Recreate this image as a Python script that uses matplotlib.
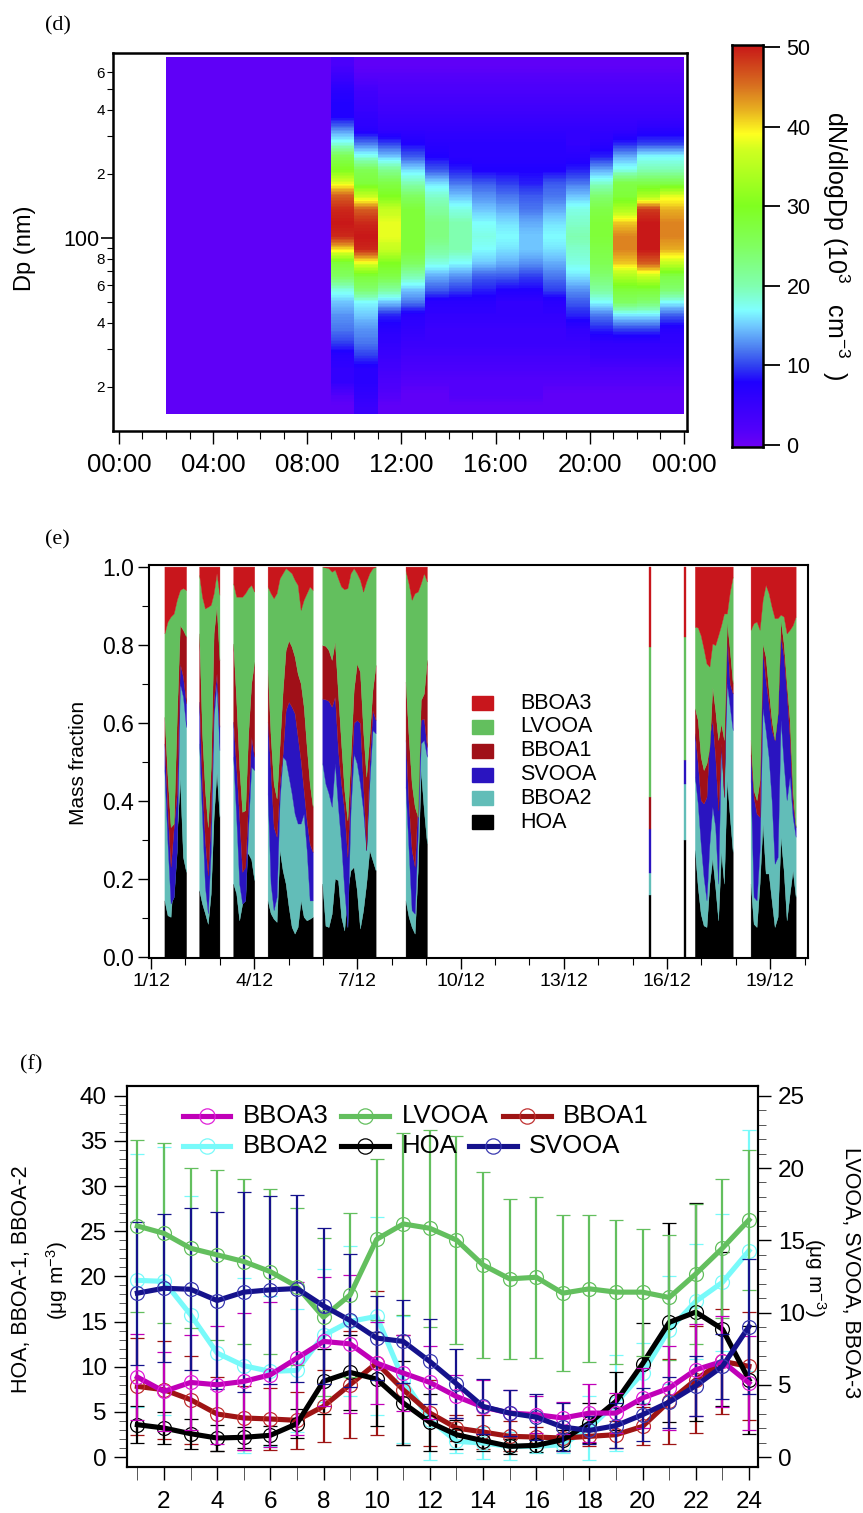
import numpy as np
import matplotlib
matplotlib.use("Agg")
import matplotlib.pyplot as plt
from matplotlib.colors import LinearSegmentedColormap
from matplotlib.lines import Line2D
from matplotlib.patches import Rectangle
from matplotlib.ticker import FixedLocator, FixedFormatter

plt.rcParams['font.family'] = ['Liberation Sans', 'DejaVu Sans']
plt.rcParams['mathtext.fontset'] = 'custom'
plt.rcParams['mathtext.rm'] = 'Liberation Sans'
plt.rcParams['mathtext.default'] = 'regular'

W, H = 863, 1513

# ---------- panel d ----------
dp_rows = [661, 572, 496, 429, 372, 322, 279, 242, 209, 181, 157, 136, 118, 102, 88, 76, 66, 57, 50, 43, 37, 32, 28, 24, 21, 18, 16]
hour_edges = list(range(2, 25))
quiet_hours = [1]*27
h09 = [3,5,7,8,8,13,18,26,30,38,46,49,50,49,40,28,25,18,15,13,12,10,7,6,6,2,1]
h10 = [1,2,4,5,6,7,12,18,26,28,36,46,49,50,49,38,28,24,17,15,13,12,10,7,7,6,5]
h11 = [1,2,3,4,5,6,10,15,22,27,30,36,38,38,36,30,27,21,15,9,7,6,5,4,3,2,1]
h12 = [1,2,3,4,5,6,8,11,16,20,25,28,28,28,28,25,20,15,12,7,6,5,4,3,2,1,1]
h13 = [1,2,3,4,5,6,7,8,11,16,19,21,23,23,21,18,14,11,7,6,5,5,4,3,2,1,1]
h14 = [1,2,3,4,5,6,7,7,9,12,15,18,20,20,20,17,13,10,7,6,5,5,4,3,2,2,1]
h15 = [1,2,3,4,5,6,7,7,8,11,13,15,17,18,17,15,11,9,7,6,5,5,4,3,2,2,1]
h16 = [1,2,3,4,5,6,7,7,8,10,12,14,16,17,16,14,11,8,6,6,5,5,4,3,2,2,1]
h17 = [1,2,3,4,5,6,7,7,8,9,11,12,14,15,15,13,10,8,6,6,5,5,4,3,2,2,1]
h18 = [1,2,3,4,5,6,7,7,8,11,12,14,16,17,16,14,12,10,7,6,5,5,4,3,2,1,1]
h19 = [1,2,3,4,5,6,6,7,9,12,15,18,19,20,19,18,16,13,11,9,6,5,4,3,2,1,1]
h20 = [1,2,3,4,5,6,7,9,14,19,24,27,28,28,27,26,24,21,17,12,9,6,5,3,2,1,1]
h21 = [1,2,3,4,5,6,9,14,18,27,28,34,41,44,44,41,34,28,25,16,10,6,5,3,2,1,1]
h22 = [1,2,3,4,5,7,10,17,20,27,34,48,50,50,50,46,36,28,24,16,10,6,5,3,2,1,1]
h23 = [1,2,3,4,5,7,10,17,20,27,38,42,44,44,42,36,27,24,17,11,7,6,5,3,2,1,1]
hour_columns = [quiet_hours]*7 + [h09,h10,h11,h12,h13,h14,h15,h16,h17,h18,h19,h20,h21,h22,h23]
cb_nodes = [0,2,8,10,12,15,17,20,25,30,37,39,42,45,50]
cb_colors = ['#6C00F4','#5200FA','#2000FF','#3040F0','#4A78F0','#70C8FF','#80FFFF','#80FFB0','#80FF60',
             '#80FF20','#D0FF20','#FFFF20','#E8B020','#D87020','#C81818']

# ---------- panel e ----------
block_days = [(1.39,2.02),(2.40,2.99),(3.39,4.0),(4.39,5.70),(5.98,7.53),(8.40,9.02),(15.48,15.53),(16.49,16.55),(16.81,17.91),(18.43,19.74)]
top_hoa = [
 [.145,.107,.103,.218,.307,.457,.256,.218],
 [.171,.137,.112,.085,.163,.359,.474,.359],
 [.188,.163,.094,.137,.265,.265,.25,.197],
 [.145,.112,.098,.09,.274,.222,.188,.128,.077,.06,.077,.145,.103,.094,.098,.103],
 [.188,.08,.077,.111,.201,.197,.103,.068,.171,.222,.231,.171,.073,.12,.188,.274,.248,.222],
 [.145,.103,.077,.06,.222,.479,.376,.291],
 [.16,.16],[.30,.30],
 [.274,.179,.111,.081,.077,.188,.252,.179,.094,.269,.188,.453,.359,.269],
 [.188,.085,.077,.188,.342,.214,.214,.145,.077,.103,.308,.222,.094,.162,.222,.154]]
top_bboa2 = [
 [.479,.291,.137,.154,.274,.701,.667,.589],
 [.547,.359,.18,.112,.274,.615,.701,.53],
 [.513,.359,.188,.137,.145,.333,.487,.479],
 [.419,.188,.12,.154,.402,.513,.504,.462,.419,.367,.342,.342,.367,.274,.145,.145],
 [.496,.444,.419,.385,.496,.385,.291,.171,.077,.376,.521,.496,.444,.376,.274,.444,.581,.573],
 [.436,.274,.12,.111,.316,.547,.556,.513],
 [.214,.214],[.444,.444],
 [.462,.393,.29,.205,.145,.29,.385,.333,.188,.538,.453,.701,.641,.581],
 [.453,.154,.145,.274,.637,.581,.513,.402,.239,.256,.607,.496,.402,.462,.359,.308]]
top_svooa = [
 [.547,.376,.231,.333,.419,.752,.718,.650],
 [.654,.444,.299,.209,.359,.658,.726,.59],
 [.603,.487,.359,.218,.231,.402,.564,.513],
 [.603,.479,.333,.308,.444,.521,.632,.654,.641,.624,.564,.504,.427,.35,.29,.269],
 [.662,.66,.656,.641,.667,.53,.444,.376,.256,.444,.6,.607,.6,.444,.274,.496,.632,.607],
 [.556,.393,.274,.231,.402,.607,.611,.538],
 [.329,.329],[.504,.504],
 [.573,.496,.402,.393,.41,.564,.607,.513,.376,.547,.41,.821,.701,.675],
 [.517,.41,.367,.359,.786,.709,.65,.581,.556,.624,.821,.77,.675,.564,.393,.333]]
top_bboa1 = [
 [.615,.462,.333,.342,.615,.850,.838,.821],
 [.829,.573,.427,.333,.487,.829,.90,.76],
 [.803,.658,.487,.372,.376,.573,.701,.756],
 [.736,.564,.444,.406,.544,.68,.786,.811,.795,.769,.726,.701,.641,.538,.444,.385],
 [.799,.797,.786,.761,.808,.675,.547,.427,.35,.513,.684,.752,.731,.581,.462,.564,.684,.748],
 [.705,.564,.444,.385,.359,.658,.675,.761],
 [.41,.41],[.504,.504],
 [.637,.607,.513,.479,.496,.538,.692,.632,.556,.598,.556,.859,.786,.701],
 [.556,.427,.402,.453,.803,.769,.684,.607,.556,.624,.863,.803,.701,.607,.427,.333]]
top_lvooa = [
 [.829,.859,.872,.880,.915,.940,.945,.940],
 [.979,.923,.893,.897,.902,.932,.983,.928],
 [.957,.923,.923,.923,.932,.945,.953,.936],
 [.949,.932,.919,.932,.97,.983,.996,.99,.983,.966,.953,.889,.915,.932,.949,.94],
 [1.0,.998,.996,.987,.992,.97,.949,.942,.945,.983,.996,.983,.966,.936,.962,.983,.996,1.0],
 [.99,.957,.915,.932,.936,.957,.983,.962],
 [.795,.795],[.82,.82],
 [.846,.844,.824,.79,.752,.744,.803,.799,.824,.85,.88,.88,.936,.974],
 [.838,.855,.859,.838,.915,.953,.932,.897,.868,.868,.877,.872,.829,.838,.85,.872]]
e_names = ['BBOA3','LVOOA','BBOA1','SVOOA','BBOA2','HOA']
e_colors = ['#C8161C','#63BF5E','#A01018','#2A14C0','#62BDB8','#000000']
e_tick_days = [1,4,7,10,13,16,19]
e_tick_labels = ['1/12','4/12','7/12','10/12','13/12','16/12','19/12']

# ---------- panel f ----------
hours = list(range(1, 25))
lvooa = [15.99,15.48,14.45,13.99,13.53,12.83,11.8,9.68,11.22,15.07,16.13,15.83,15.02,13.29,12.33,12.44,11.34,11.64,11.41,11.41,11.04,12.67,14.45,16.41]
lvooa_err = [5.93,6.22,5.55,5.88,5.7,5.71,5.41,5.45,5.65,5.56,6.27,6.8,7.18,6.45,5.55,5.59,5.4,5.08,4.97,4.4,4.31,4.84,4.8,4.82]
svooa = [11.34,11.68,11.61,10.83,11.41,11.57,11.66,10.46,9.45,8.23,8.0,6.61,5.07,3.5,3.04,2.76,2.07,1.84,2.17,2.93,3.8,4.93,6.27,9.03]
svooa_err = [4.95,5.12,5.62,6.11,6.91,6.5,6.47,5.39,4.59,2.88,2.88,2.97,2.4,1.89,1.61,1.59,1.66,.97,1.57,1.84,1.77,2.07,2.26,4.65]
bboa3 = [5.53,4.54,5.16,5.0,5.23,5.69,6.84,8.0,7.83,6.5,5.81,5.16,4.19,3.46,3.04,2.93,2.7,3.04,3.04,4.08,4.77,6.04,6.61,5.12]
bboa3_err = [2.97,2.76,3.29,4.1,4.72,5.02,5.3,4.49,4.79,2.83,2.65,2.53,1.5,1.89,1.61,1.27,1.08,2.0,1.38,2.07,2.93,3.18,3.18,3.23]
hoa = [3.58,3.21,2.58,2.1,2.18,2.4,3.69,8.38,9.37,8.63,5.98,3.84,2.47,1.81,1.18,1.29,1.92,3.76,6.16,10.33,14.91,16.05,14.17,8.56]
hoa_err = [2.03,1.73,1.66,1.48,1.14,1.07,1.62,3.58,4.17,5.17,4.61,3.17,1.59,1.11,.85,.7,1.11,2.21,3.21,4.5,11.0,12.07,8.56,5.98]
bboa1 = [7.82,7.45,6.35,4.76,4.32,4.21,4.06,5.61,8.01,10.41,7.45,4.87,3.21,2.77,2.29,2.21,2.1,2.29,2.47,3.39,6.16,8.56,10.59,10.04]
bboa1_err = [5.39,5.42,4.87,4.06,3.51,3.47,3.14,3.99,5.9,7.93,6.09,3.69,1.48,1.85,1.66,1.11,1.48,1.11,1.48,2.1,4.69,5.9,5.83,5.98]
bboa2 = [19.56,19.45,15.76,11.51,10.11,9.48,9.59,13.47,15.02,15.57,8.56,4.13,1.73,1.55,1.18,1.18,1.37,3.21,5.98,9.3,14.1,17.23,19.34,22.84]
bboa2_err = [13.98,14.83,13.1,10.89,9.7,8.3,6.83,7.34,8.3,10.96,7.05,4.43,1.29,1.77,1.55,.74,.92,3.51,5.35,3.32,5.98,6.38,7.6,13.32]
c_lv, c_sv, c_b3, c_hoa, c_b1, c_b2 = '#63BF5E', '#15128C', '#C000B8', '#000000', '#9E1414', '#78FAFA'
mk_lv, mk_sv, mk_b3, mk_hoa, mk_b1, mk_b2 = '#63BF5E', '#3A3AB0', '#E020D8', '#000000', '#C03030', '#78FAFA'


def add_ax(l, t, r, b, **kw):
    return fig.add_axes([l/W, 1-b/H, (r-l)/W, (b-t)/H], **kw)


def fig_text(x, y, s, **kw):
    fig.text(x/W, 1-y/H, s, **kw)


fig = plt.figure(figsize=(W/100, H/100), dpi=100)

for x, y, s in [(45, 26, '(d)'), (45, 540, '(e)'), (20, 1065, '(f)')]:
    fig_text(x, y, s, family='Liberation Serif', fontsize=16, ha='left', va='center')

# ---- d ----
cmap = LinearSegmentedColormap.from_list('aero', [(n/50, c) for n, c in zip(cb_nodes, cb_colors)], N=256)
ax = add_ax(113, 53, 687, 431)
dp_min, dp_max = 14.9, 707
levels = np.geomspace(dp_min, dp_max, 240)
matrix = np.array([np.interp(np.log(levels), np.log(dp_rows[::-1]), col[::-1]) for col in hour_columns]).T
ax.pcolormesh(hour_edges, np.geomspace(dp_min, dp_max, 241), matrix, cmap=cmap, vmin=0, vmax=50, shading='flat', rasterized=True)
ax.set_yscale('log')
ax.set_xlim(-0.25, 24.13)
ax.set_ylim(100*10**((238-431)/213), 100*10**((238-53)/213))
ax.set_xticks([0,4,8,12,16,20,24])
ax.set_xticklabels(['00:00','04:00','08:00','12:00','16:00','20:00','00:00'], fontsize=18.5)
ax.set_xticks(range(0, 25), minor=True)
ax.tick_params(axis='x', which='major', length=9.5, width=1, pad=6)
ax.tick_params(axis='x', which='minor', length=5.5, width=0.8)
ax.yaxis.set_major_locator(FixedLocator([100]))
ax.yaxis.set_major_formatter(FixedFormatter(['100']))
ax.yaxis.set_minor_locator(FixedLocator([20,30,40,50,60,70,80,90,200,300,400,500,600]))
ax.yaxis.set_minor_formatter(FixedFormatter(['2','','4','','6','','8','','2','','4','','6']))
ax.tick_params(axis='y', which='major', length=9, width=1.2, labelsize=15.5, pad=1)
ax.tick_params(axis='y', which='minor', length=4.5, width=0.8, labelsize=11, pad=1.5)
for s in ax.spines.values():
    s.set_linewidth(1.8)
fig_text(25, 248, 'Dp (nm)', fontsize=17, rotation=90, ha='center', va='center')

cax = add_ax(732, 45, 763, 447)
grad = np.linspace(0, 50, 256)[:, None]
cax.imshow(grad, origin='lower', aspect='auto', cmap=cmap, vmin=0, vmax=50, extent=[0, 1, -0.25, 50.25])
cax.set_ylim(-0.25, 50.25)
cax.set_xticks([])
cax.yaxis.tick_right()
cax.set_yticks([0,10,20,30,40,50])
cax.tick_params(axis='y', length=12, width=1.3, labelsize=15.5, pad=5)
for s in cax.spines.values():
    s.set_linewidth(1.8)
fig_text(836, 246, 'dN/dlogDp (10$^{3}$   cm$^{-3}$  )', fontsize=18, rotation=270, ha='center', va='center')

# ---- e ----
ax = add_ax(149, 565, 808, 958)
e_layers = [top_hoa, top_bboa2, top_svooa, top_bboa1, top_lvooa]
for i, (d0, d1) in enumerate(block_days):
    t = np.linspace(d0, d1, len(top_hoa[i]))
    lower = np.zeros(len(t))
    for layer, col in zip(e_layers, e_colors[::-1]):
        up = np.array(layer[i])
        ax.fill_between(t, lower, up, color=col, lw=0.25)
        lower = up
    ax.fill_between(t, lower, 1.0, color=e_colors[0], lw=0.25)
ax.set_xlim(1+(149-151)/34.4, 1+(808-151)/34.4)
ax.set_ylim(-0.0025, 1.0041)
ax.set_yticks([0,.2,.4,.6,.8,1.0])
ax.set_yticklabels(['0.0','0.2','0.4','0.6','0.8','1.0'], fontsize=16.5)
ax.set_yticks(np.arange(0, 1.01, .1), minor=True)
ax.set_xticks(e_tick_days)
ax.set_xticklabels(e_tick_labels, fontsize=14)
ax.set_xticks(range(1, 21), minor=True)
ax.tick_params(axis='both', which='major', length=8, width=1, pad=3)
ax.tick_params(axis='both', which='minor', length=5, width=0.8)
for s in ax.spines.values():
    s.set_linewidth(1.5)
fig_text(78, 763, 'Mass fraction', fontsize=15, rotation=90, ha='center', va='center')
for name, col, yy in zip(e_names, e_colors, [703, 727, 751, 775, 798, 822]):
    fig.add_artist(Rectangle((472/W, 1-(yy+7)/H), 21/W, 14/H, transform=fig.transFigure, color=col, zorder=10))
    fig_text(520, yy, name, fontsize=15.5, ha='left', va='center', zorder=10)

# ---- f ----
ax = add_ax(127, 1086, 758, 1467)
ax.set_xlim(0.61, 24.34)
ax.set_ylim((1457-1467)/9.03, (1457-1086)/9.03)
ax2 = ax.twinx()
y0, y1 = ax.get_ylim()
ax2.set_ylim(y0*0.625, y1*0.625)


def series(a, y, err, col, mk):
    a.errorbar(hours, y, yerr=err, color=col, lw=3.7, elinewidth=1.6, capsize=4.8, capthick=1.6,
               marker='o', ms=10, mfc='none', mec=mk, mew=0.9)


series(ax, bboa2, bboa2_err, c_b2, mk_b2)
series(ax, bboa1, bboa1_err, c_b1, mk_b1)
series(ax, hoa, hoa_err, c_hoa, mk_hoa)
series(ax2, lvooa, lvooa_err, c_lv, mk_lv)
series(ax2, bboa3, bboa3_err, c_b3, mk_b3)
series(ax2, svooa, svooa_err, c_sv, mk_sv)

ax.set_xticks(range(2, 25, 2))
ax.set_xticks(range(1, 25), minor=True)
ax.set_yticks(range(0, 41, 5))
ax.set_yticks(range(0, 41), minor=True)
ax2.set_yticks(range(0, 26, 5))
ax2.set_yticks(range(0, 26), minor=True)
for a in (ax, ax2):
    a.tick_params(axis='y', which='major', length=9.5, width=1, labelsize=17.5, pad=5)
    a.tick_params(axis='y', which='minor', length=5.5, width=0.7, color='#555555')
    for s in a.spines.values():
        s.set_linewidth(1.5)
ax.tick_params(axis='x', which='major', length=9, width=1, labelsize=17.5, pad=8)
ax.tick_params(axis='x', which='minor', length=9, width=0.7, color='#555555')
fig_text(22, 1279, 'HOA, BBOA-1, BBOA-2', fontsize=15.5, rotation=90, ha='center', va='center')
fig_text(57, 1281, r'(μg m$^{-3}$)', fontsize=15, rotation=90, ha='center', va='center')
fig_text(850, 1273, 'LVOOA, SVOOA, BBOA-3', fontsize=15.5, rotation=270, ha='center', va='center')
fig_text(815, 1277, r'(μg m$^{-3}$)', fontsize=15, rotation=270, ha='center', va='center')

legend_rows = [
    [(183, 230, 243, 'BBOA3', c_b3, mk_b3, 1116), (341, 389, 402, 'LVOOA', c_lv, mk_lv, 1116), (503, 551, 563, 'BBOA1', c_b1, mk_b1, 1116)],
    [(183, 230, 243, 'BBOA2', c_b2, mk_b2, 1146), (341, 389, 402, 'HOA', c_hoa, mk_hoa, 1146), (469, 517, 529, 'SVOOA', c_sv, mk_sv, 1146)],
]
for row in legend_rows:
    for x0, x1, tx, name, col, mk, yy in row:
        yf = 1-yy/H
        fig.add_artist(Line2D([x0/W, x1/W], [yf, yf], color=col, lw=3.7, zorder=10, transform=fig.transFigure))
        fig.add_artist(Line2D([(x0+x1)/2/W], [yf], marker='o', ms=11, mfc='none', mec=mk, mew=0.9, zorder=10,
                              transform=fig.transFigure))
        fig_text(tx, yy, name, fontsize=18.5, ha='left', va='center', zorder=10)

fig.savefig('out.png', dpi=100)
